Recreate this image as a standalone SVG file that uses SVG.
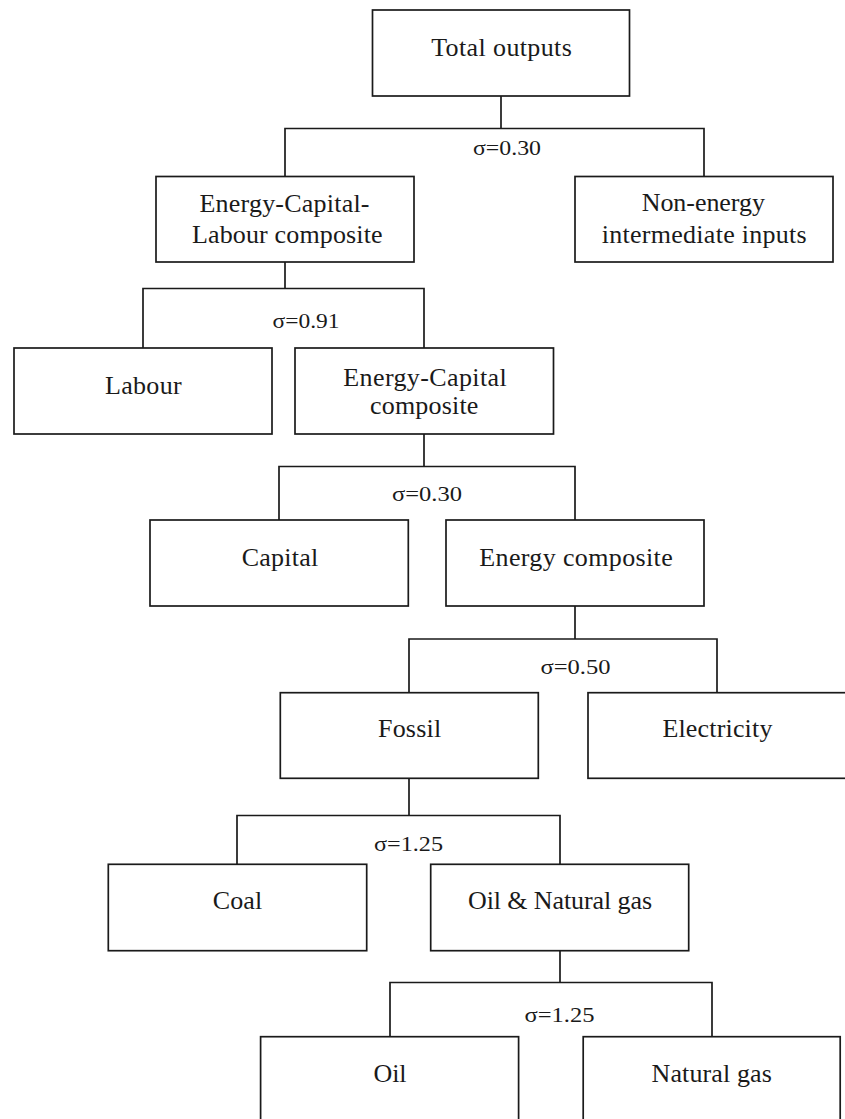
<svg xmlns="http://www.w3.org/2000/svg" width="845" height="1119" viewBox="0 0 845 1119">
<style>
.box{fill:#fff;stroke:#1a1a1a;stroke-width:1.7}
.lbl{font-family:"Liberation Serif","Times New Roman",serif;font-size:26px;fill:#1a1a1a;text-anchor:middle}
.sig{font-family:"Liberation Serif","Times New Roman",serif;font-size:22px;fill:#1a1a1a;text-anchor:middle}
.con{fill:none;stroke:#1a1a1a;stroke-width:1.7}
</style>
<rect width="845" height="1119" fill="#fff"/>
<g id="connectors">
<path class="con" d="M501,96 V128.5 M285,176.5 V128.5 H704 V176.5"/>
<path class="con" d="M285,262 V288.5 M143,348 V288.5 H424 V348"/>
<path class="con" d="M424,434 V466.5 M279,520 V466.5 H575 V520"/>
<path class="con" d="M575,606 V639 M409,693 V639 H717 V693"/>
<path class="con" d="M409,778.5 V815.5 M237,864 V815.5 H560 V864"/>
<path class="con" d="M560,951 V982.5 M390,1037 V982.5 H712 V1037"/>
<text class="sig" x="507" y="155" textLength="68" lengthAdjust="spacingAndGlyphs">σ=0.30</text>
<text class="sig" x="306" y="327.5" textLength="67" lengthAdjust="spacingAndGlyphs">σ=0.91</text>
<text class="sig" x="427" y="501" textLength="70" lengthAdjust="spacingAndGlyphs">σ=0.30</text>
<text class="sig" x="575.5" y="674" textLength="70" lengthAdjust="spacingAndGlyphs">σ=0.50</text>
<text class="sig" x="408.5" y="851" textLength="69" lengthAdjust="spacingAndGlyphs">σ=1.25</text>
<text class="sig" x="559.5" y="1021.5" textLength="70" lengthAdjust="spacingAndGlyphs">σ=1.25</text>
</g>
<g id="total-outputs">
<rect class="box" x="372.5" y="10" width="257" height="86"/>
<text class="lbl" x="501.5" y="55.7" textLength="140.7" lengthAdjust="spacing">Total outputs</text>
</g>
<g id="ecl-composite">
<rect class="box" x="156" y="176.5" width="258" height="85.5"/>
<text class="lbl" x="284.5" y="211.7" textLength="170" lengthAdjust="spacing">Energy-Capital-</text>
<text class="lbl" x="287.3" y="242.7" textLength="190.7" lengthAdjust="spacing">Labour composite</text>
</g>
<g id="non-energy">
<rect class="box" x="575" y="176.5" width="258" height="85.5"/>
<text class="lbl" x="703.3" y="210.5" textLength="123.3" lengthAdjust="spacing">Non-energy</text>
<text class="lbl" x="704.2" y="243" textLength="205" lengthAdjust="spacing">intermediate inputs</text>
</g>
<g id="labour">
<rect class="box" x="14" y="348" width="258" height="86"/>
<text class="lbl" x="143.3" y="394" textLength="76.7" lengthAdjust="spacing">Labour</text>
</g>
<g id="ec-composite">
<rect class="box" x="295" y="348" width="258.5" height="86"/>
<text class="lbl" x="425" y="386" textLength="163.4" lengthAdjust="spacing">Energy-Capital</text>
<text class="lbl" x="424.2" y="414.3" textLength="108.3" lengthAdjust="spacing">composite</text>
</g>
<g id="capital">
<rect class="box" x="150" y="520" width="258.3" height="86"/>
<text class="lbl" x="280" y="565.7" textLength="76.7" lengthAdjust="spacing">Capital</text>
</g>
<g id="energy-composite">
<rect class="box" x="446" y="520" width="258" height="86"/>
<text class="lbl" x="576" y="566.3" textLength="193.4" lengthAdjust="spacing">Energy composite</text>
</g>
<g id="fossil">
<rect class="box" x="280.3" y="692.7" width="258" height="85.6"/>
<text class="lbl" x="409.6" y="737.3" textLength="63.2" lengthAdjust="spacing">Fossil</text>
</g>
<g id="electricity">
<rect class="box" x="588" y="692.7" width="258" height="85.6"/>
<text class="lbl" x="717.4" y="737.3" textLength="110" lengthAdjust="spacing">Electricity</text>
</g>
<g id="coal">
<rect class="box" x="108.3" y="864.3" width="258.4" height="86.4"/>
<text class="lbl" x="237.5" y="909.3" textLength="49.6" lengthAdjust="spacing">Coal</text>
</g>
<g id="oil-natural-gas">
<rect class="box" x="430.7" y="864.3" width="258" height="86.4"/>
<text class="lbl" x="560" y="909.3" textLength="184" lengthAdjust="spacing">Oil &amp; Natural gas</text>
</g>
<g id="oil">
<rect class="box" x="260.6" y="1036.7" width="258" height="100"/>
<text class="lbl" x="390" y="1081.7" textLength="33" lengthAdjust="spacing">Oil</text>
</g>
<g id="natural-gas">
<rect class="box" x="583.2" y="1036.7" width="257" height="100"/>
<text class="lbl" x="711.7" y="1081.7" textLength="120.3" lengthAdjust="spacing">Natural gas</text>
</g>
</svg>
